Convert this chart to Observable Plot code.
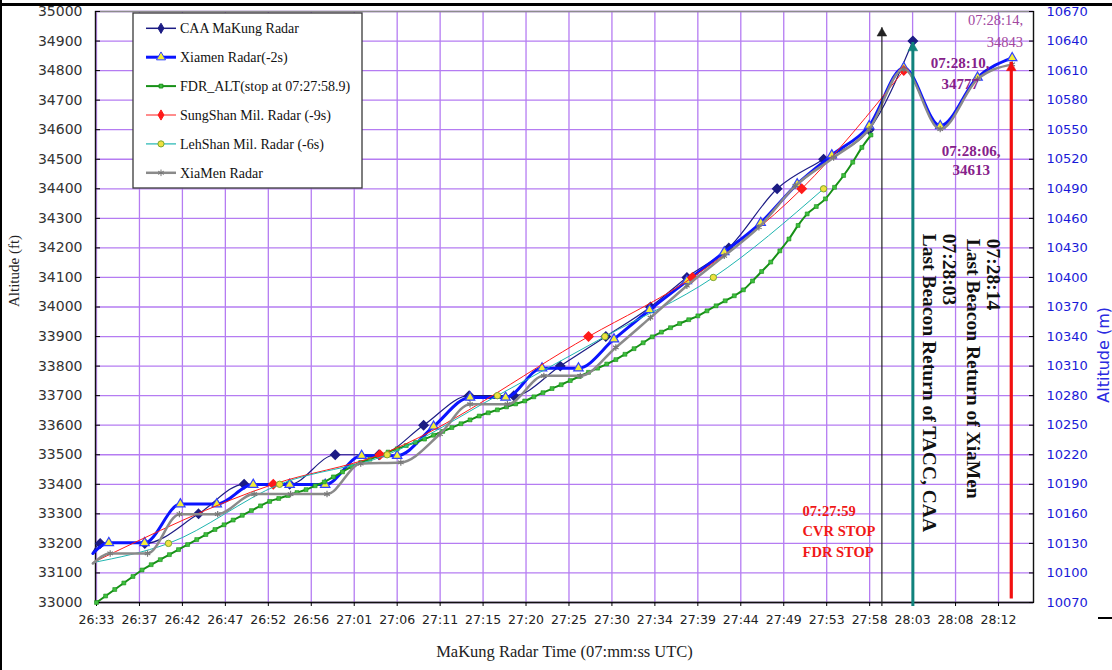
<!DOCTYPE html>
<html><head><meta charset="utf-8">
<script src="https://cdn.jsdelivr.net/npm/d3@7"></script>
<script src="https://cdn.jsdelivr.net/npm/@observablehq/plot@0.6"></script>
<style>
html,body{margin:0;padding:0;background:#fff;}
#chart{position:relative;width:1112px;height:670px;overflow:hidden;background:#fff;}
#chart svg{position:absolute;left:0;top:0;}
.deco{position:absolute;background:#000;}
</style></head><body>
<div id="chart"></div>
<script>
// ---- tick labels ----
const timeLabels = ["26:33","26:37","26:42","26:47","26:52","26:56","27:01","27:06","27:11","27:15","27:20","27:25","27:30","27:34","27:39","27:44","27:49","27:53","27:58","28:03","28:08","28:12"];
const ftTicks = [33000,33100,33200,33300,33400,33500,33600,33700,33800,33900,34000,34100,34200,34300,34400,34500,34600,34700,34800,34900,35000];
const mLabels = [10070,10100,10130,10160,10190,10220,10250,10280,10310,10340,10370,10400,10430,10460,10490,10520,10550,10580,10610,10640,10670];

// ---- series (time in seconds after 07:26:33, altitude in ft) ----
const caaTime = [-0.4, 0.4, 5.3, 11.2, 16.2, 21.2, 26.2, 31.0, 35.9, 40.9, 45.8, 50.9, 55.9, 60.8, 64.8, 69.4, 74.7, 79.8, 84.8, 89.6];
const caaAlt  = [33170, 33200, 33200, 33300, 33400, 33400, 33500, 33500, 33600, 33700, 33700, 33800, 33900, 34000, 34100, 34200, 34400, 34500, 34600, 34900];

const xiamenTime = [-0.4, 1.35, 5.27, 9.2, 13.2, 17.2, 21.2, 25.1, 29.1, 33.0, 37.0, 41.0, 44.9, 48.9, 52.9, 56.8, 60.7, 64.8, 68.9, 72.9, 76.9, 80.7, 84.8, 88.6, 92.6, 96.7, 100.5];
const xiamenAlt  = [33166, 33202, 33202, 33333, 33333, 33399, 33399, 33399, 33497, 33497, 33596, 33694, 33694, 33793, 33793, 33891, 33990, 34088, 34186, 34285, 34416, 34514, 34613, 34810, 34613, 34777, 34843];

const fdrTime = [0,1,2,3,4,5,6,7,8,9,10,11,12,13,14,15,16,17,18,19,20,21,22,23,24,25,26,27,28,29,30,31,32,33,34,35,36,37,38,39,40,41,42,43,44,45,46,47,48,49,50,51,52,53,54,55,56,57,58,59,60,61,62,63,64,65,66,67,68,69,70,71,72,73,74,75,76,77,78,79,80,81,82,83,84,85];
const fdrAlt  = [33000,33022,33044,33066,33088,33110,33128,33145,33162,33179,33196,33213,33230,33247,33263,33279,33295,33311,33327,33342,33352,33362,33372,33382,33395,33408,33425,33442,33460,33474,33485,33497,33509,33520,33531,33542,33553,33566,33579,33592,33605,33618,33631,33642,33652,33662,33672,33682,33696,33710,33724,33737,33751,33765,33779,33793,33807,33822,33840,33859,33879,33899,33915,33930,33944,33957,33970,33987,34004,34021,34038,34058,34088,34120,34152,34190,34230,34276,34315,34340,34366,34405,34445,34490,34540,34582];

const sungshanTime = [-0.4, 19.4, 31.1, 54.0, 65.4, 77.4, 88.6];
const sungshanAlt  = [33135, 33400, 33500, 33900, 34100, 34400, 34800];

const lehshanTime = [-0.4, 7.9, 20.1, 31.9, 44.0, 55.8, 67.7, 79.8];
const lehshanAlt  = [33135, 33200, 33400, 33500, 33700, 33900, 34100, 34400];

const xmTime = [-0.4, 1.5, 5.6, 9.1, 13.3, 17.3, 21.3, 25.3, 29.0, 33.4, 37.7, 41.0, 45.1, 49.1, 53.1, 57.0, 60.8, 64.8, 68.9, 72.7, 76.7, 80.9, 84.8, 88.6, 92.6, 96.7, 100.5];
const xmAlt  = [33132, 33166, 33166, 33299, 33299, 33367, 33367, 33367, 33470, 33474, 33570, 33671, 33671, 33767, 33767, 33863, 33964, 34072, 34173, 34270, 34410, 34506, 34602, 34805, 34602, 34771, 34821];

const legendNames = ["CAA MaKung Radar","Xiamen Radar(-2s)","FDR_ALT(stop at 07:27:58.9)","SungShan Mil. Radar (-9s)","LehShan Mil. Radar (-6s)","XiaMen Radar"];

// event markers: time (s), arrow base and tip altitude (ft)
const events = [
  {name: "cvr", t: 86.2, a: 33000, b: 34945, color: "#222", w: 1.2},
  {name: "caa", t: 89.6, a: 33000, b: 34895, color: "#11827c", w: 3},
  {name: "xiamen", t: 100.4, a: 33025, b: 34828, color: "#f21010", w: 3.2}
];

// ---- build ----
const rows = (ts, vs) => ts.map((t, i) => ({t, ft: vs[i]}));
const caa = rows(caaTime, caaAlt);
const xiamen = rows(xiamenTime, xiamenAlt);
const fdr = rows(fdrTime, fdrAlt);
const sungshan = rows(sungshanTime, sungshanAlt);
const lehshan = rows(lehshanTime, lehshanAlt);
const xm = rows(xmTime, xmAlt);

const tickPos = timeLabels.map((d, i) => i * 99 / 21);
const xDomain = [-0.11, 102.84];
const grid = "#b57cf2";
const C = {
  caa: "#1c1c84", xiamen: "#0a14ff", fdr: "#179017", fdrDot: "#3fbf3f",
  sung: "#ff1a1a", leh: "#1fb5b0", lehDot: "#f0e040", xm: "#8a8a8a"
};
const serif = "'Liberation Serif','Times New Roman',serif";
const sans = "'DejaVu Sans',Verdana,sans-serif";

const lineOpts = {x: "t", y: "ft", curve: "monotone-x"};

const plot = Plot.plot({
  width: 1112, height: 670,
  marginLeft: 95, marginRight: 79, marginTop: 11, marginBottom: 68,
  x: {domain: xDomain},
  y: {domain: [33000, 35000]},
  style: {background: "transparent", fontFamily: sans, overflow: "visible"},
  marks: [
    Plot.gridX(tickPos, {stroke: grid, strokeOpacity: 1, strokeWidth: 1.3}),
    Plot.gridY(ftTicks, {stroke: grid, strokeOpacity: 1, strokeWidth: 1.3}),
    Plot.frame({stroke: "#8c8c8c", strokeWidth: 1.5}),
    Plot.ruleX([xDomain[0], xDomain[1]], {stroke: "#111", strokeWidth: 1.2}),
    Plot.ruleY([33000], {stroke: "#111", strokeWidth: 1.5}),
    // axes
    Plot.axisX(tickPos, {tickFormat: (d, i) => timeLabels[i], tickSize: 4, tickPadding: 9,
      fontSize: 12.5, fontFamily: sans, fill: "#222", label: null}),
    Plot.axisY(ftTicks, {anchor: "left", tickSize: -5, tickPadding: 18, fontSize: 14,
      fontFamily: sans, fill: "#333", label: null, tickFormat: d => String(d)}),
    Plot.axisY(ftTicks, {anchor: "right", tickSize: -5, tickPadding: 18, fontSize: 13,
      fontFamily: sans, fill: "#1a1ad8", label: null, tickFormat: (d, i) => String(mLabels[i])}),
    // axis titles
    Plot.text(["Altitude (ft)"], {frameAnchor: "left", dx: -81, rotate: -90, fontSize: 15, fontFamily: serif, fill: "#222"}),
    Plot.text(["Altitude (m)"], {frameAnchor: "right", dx: 70, rotate: -90, fontSize: 16, fontFamily: sans, fill: "#2a2ae0"}),
    Plot.text(["MaKung Radar Time (07:mm:ss UTC)"], {frameAnchor: "bottom", dy: 54, fontSize: 16.5, fontFamily: serif, fill: "#222"}),

    // series (Excel order)
    Plot.line(caa, {...lineOpts, stroke: C.caa, strokeWidth: 1.2}),
    Plot.dot(caa.slice(1), {x: "t", y: "ft", symbol: "diamond2", r: 4, fill: C.caa, stroke: C.caa}),
    Plot.line(xiamen, {...lineOpts, stroke: C.xiamen, strokeWidth: 3}),
    Plot.dot(xiamen.slice(1), {x: "t", y: "ft", symbol: "triangle2", r: 4.5, fill: "#f2ee3a", stroke: "#3040ff", strokeWidth: 1.2}),
    Plot.line(fdr, {...lineOpts, stroke: C.fdr, strokeWidth: 2}),
    Plot.dot(fdr, {x: "t", y: "ft", symbol: "square", r: 2.2, fill: C.fdrDot, stroke: C.fdr, strokeWidth: 0.6}),
    Plot.line(sungshan, {...lineOpts, stroke: C.sung, strokeWidth: 1}),
    Plot.dot(sungshan.slice(1), {x: "t", y: "ft", symbol: "diamond2", r: 4, fill: C.sung, stroke: C.sung}),
    Plot.line(lehshan, {...lineOpts, stroke: C.leh, strokeWidth: 1}),
    Plot.dot(lehshan.slice(1), {x: "t", y: "ft", r: 3.2, fill: C.lehDot, stroke: "#7aa830", strokeWidth: 1}),
    Plot.line(xm, {...lineOpts, stroke: C.xm, strokeWidth: 2.5}),
    Plot.dot(xm.slice(1), {x: "t", y: "ft", symbol: "asterisk", r: 3, stroke: "#777", strokeWidth: 1.2}),

    // event arrows: shaft + filled head
    Plot.ruleX(events, {x: "t", y1: "a", y2: "b", stroke: "color", strokeWidth: "w", insetTop: 4}),
    Plot.dot(events, {x: "t", y: "b", symbol: "triangle", r: 3.6, fill: "color", stroke: "color", strokeWidth: 0.5, dy: 5.5}),

    // annotations
    Plot.text([{t: 101.7, ft: 34978}], {x: "t", y: "ft", text: () => "07:28:14,\n34843", textAnchor: "end", lineAnchor: "top", dy: -8, lineHeight: 1.5, fontSize: 14.5, fontFamily: serif, fill: "#a2479f"}),
    Plot.text([{t: 94.8, ft: 34832}], {x: "t", y: "ft", text: () => "07:28:10,\n34777", lineAnchor: "top", dy: -8, lineHeight: 1.4, fontSize: 15, fontWeight: "bold", fontFamily: serif, fill: "#86218a"}),
    Plot.text([{t: 96.0, ft: 34532}], {x: "t", y: "ft", text: () => "07:28:06,\n34613", lineAnchor: "top", dy: -8, lineHeight: 1.3, fontSize: 15, fontWeight: "bold", fontFamily: serif, fill: "#86218a"}),
    Plot.text([{t: 92.47, ft: 34248}], {x: "t", y: "ft", text: () => "07:28:03\nLast Beacon Return of TACC, CAA", rotate: 90, textAnchor: "start", lineHeight: 1.0, fontSize: 19.5, fontWeight: "bold", fontFamily: serif, fill: "#111"}),
    Plot.text([{t: 97.3, ft: 34231}], {x: "t", y: "ft", text: () => "07:28:14\nLast Beacon Return of XiaMen", rotate: 90, textAnchor: "start", lineHeight: 1.0, fontSize: 19.5, fontWeight: "bold", fontFamily: serif, fill: "#111"}),
    Plot.text([{t: 77.5, ft: 33246}], {x: "t", y: "ft", text: () => "07:27:59\nCVR STOP\nFDR STOP", textAnchor: "start", lineHeight: 1.4, fontSize: 14.5, fontWeight: "bold", fontFamily: serif, fill: "#f01818"})
  ]
});
const chart = document.getElementById("chart");
chart.appendChild(plot);

// ---- legend (overlay inside the plot area) ----
const lg = d3.select(chart).append("svg")
  .attr("width", 232).attr("height", 178)
  .style("left", "132px").style("top", "12px");
lg.append("rect").attr("x", 1).attr("y", 1).attr("width", 229).attr("height", 175)
  .attr("fill", "#fff").attr("stroke", "#3a3a3a").attr("stroke-width", 1.3);
const legendStyles = [
  {stroke: C.caa, w: 1.5, sym: d3.symbolDiamond, size: 30, fill: C.caa, ms: C.caa},
  {stroke: C.xiamen, w: 3, sym: d3.symbolTriangle, size: 36, fill: "#f2ee3a", ms: "#3040ff"},
  {stroke: C.fdr, w: 2, sym: d3.symbolSquare, size: 14, fill: C.fdrDot, ms: C.fdr},
  {stroke: C.sung, w: 1, sym: d3.symbolDiamond, size: 30, fill: C.sung, ms: C.sung},
  {stroke: C.leh, w: 1.2, sym: d3.symbolCircle, size: 30, fill: C.lehDot, ms: "#7aa830"},
  {stroke: C.xm, w: 2.5, sym: d3.symbolAsterisk, size: 30, fill: "none", ms: "#777"}
];
legendNames.forEach((name, i) => {
  const y = 16.3 + i * 28.9;
  const s = legendStyles[i];
  lg.append("line").attr("x1", 14).attr("x2", 44).attr("y1", y).attr("y2", y)
    .attr("stroke", s.stroke).attr("stroke-width", s.w);
  lg.append("path").attr("d", d3.symbol(s.sym, s.size)()).attr("transform", `translate(29,${y})`)
    .attr("fill", s.fill).attr("stroke", s.ms).attr("stroke-width", 1);
  lg.append("text").attr("x", 48).attr("y", y).attr("dy", "0.35em")
    .attr("font-family", serif).attr("font-size", 14).attr("fill", "#111").text(name);
});

// page frame pieces
const deco = (l, t, w, h) => { const d = document.createElement("div"); d.className = "deco";
  Object.assign(d.style, {left: l + "px", top: t + "px", width: w + "px", height: h + "px"}); chart.appendChild(d); };
deco(0, 3, 1112, 3);
deco(0, 0, 1.5, 670);
deco(1098, 617, 14, 1.5);
</script>
</body></html>
